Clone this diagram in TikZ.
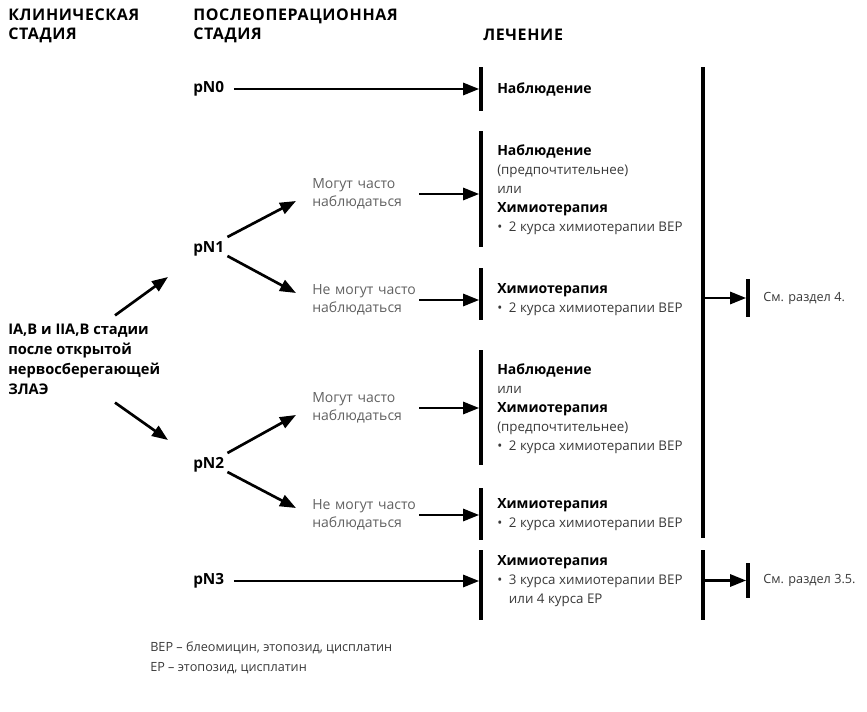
\documentclass[tikz,border=0pt]{standalone}
\usepackage{fontspec}
\setmainfont{Open Sans}
\usetikzlibrary{arrows.meta,positioning}

\newcommand{\bhead}[1]{\textcolor{black}{\fontsize{10.5}{14.25}\selectfont\textbf{#1}}}

\tikzset{
  hdr/.style={anchor=west, align=left, inner sep=0, font=\addfontfeatures{LetterSpace=4}\bfseries\fontsize{12}{14.25}\selectfont},
  stg/.style={anchor=west, align=left, inner sep=0, font=\bfseries\fontsize{11}{15}\selectfont},
  pnode/.style={anchor=west, inner sep=0, font=\bfseries\fontsize{11.5}{12}\selectfont},
  obs/.style={anchor=west, align=left, inner sep=0, text width=80pt, text=black!62, font=\fontsize{10.5}{13.5}\selectfont},
  txt/.style={anchor=west, align=left, inner sep=0, text=black!78, font=\fontsize{10}{14.25}\selectfont},
  bar/.style={fill=black, inner sep=0, minimum width=2.3pt},
  arr/.style={-{Triangle[length=12pt,width=9pt]}, line width=2pt},
}

\begin{document}
\begin{tikzpicture}[x=0.75pt, y=-0.75pt]
  \useasboundingbox (0,0) rectangle (867,712);

  \node[hdr] (hclin) at (8,25.5) {КЛИНИЧЕСКАЯ\\СТАДИЯ};
  \node[hdr] (hpost) at (193,25.5) {ПОСЛЕОПЕРАЦИОННАЯ\\СТАДИЯ};
  \node[hdr] (htreat) at (483,35) {ЛЕЧЕНИЕ};

  \node[stg] (stage) at (8,359) {IA,B и IIA,B стадии\\после открытой\\нервосберегающей\\ЗЛАЭ};

  \node[pnode] (pn0) at (193,89) {pN0};
  \node[pnode] (pn1) at (193,249) {pN1};
  \node[pnode] (pn2) at (193,465) {pN2};
  \node[pnode] (pn3) at (193,581) {pN3};

  \node[obs] (m1) at (312,194) {Могут часто\\наблюдаться};
  \node[obs] (n1) at (312,300) {Не могут часто\\наблюдаться};
  \node[obs] (m2) at (312,408) {Могут часто\\наблюдаться};
  \node[obs] (n2) at (312,515) {Не могут часто\\наблюдаться};

  \node[bar, minimum height=33pt] (t0) at (481,89) {};
  \node[bar, minimum height=87pt] (t1) at (481,189) {};
  \node[bar, minimum height=39pt] (t2) at (481,294) {};
  \node[bar, minimum height=86.25pt] (t3) at (481,407.5) {};
  \node[bar, minimum height=39pt] (t4) at (481,514) {};
  \node[bar, minimum height=52.5pt] (t5) at (481,585) {};
  \node[bar, minimum height=353.25pt] (big) at (703,302.5) {};
  \node[bar, minimum height=52.5pt] (r5) at (703,585) {};
  \node[bar, minimum height=28.5pt] (s1) at (748,298) {};
  \node[bar, minimum height=26.25pt] (s2) at (748,580.5) {};

  \node[txt] (c0) at (497,89) {\bhead{Наблюдение}};
  \node[txt] (c1) at (497,190) {\bhead{Наблюдение}\\(предпочтительнее)\\или\\\bhead{Химиотерапия}\\•\hspace{5pt}2 курса химиотерапии ВЕР};
  \node[txt] (c2) at (497,299.5) {\bhead{Химиотерапия}\\•\hspace{5pt}2 курса химиотерапии ВЕР};
  \node[txt] (c3) at (497,408.5) {\bhead{Наблюдение}\\или\\\bhead{Химиотерапия}\\(предпочтительнее)\\•\hspace{5pt}2 курса химиотерапии ВЕР};
  \node[txt] (c4) at (497,514.5) {\bhead{Химиотерапия}\\•\hspace{5pt}2 курса химиотерапии ВЕР};
  \node[txt] (c5) at (497,581.5) {\bhead{Химиотерапия}\\•\hspace{5pt}3 курса химиотерапии ВЕР\\\phantom{•}\hspace{5pt}или 4 курса ЕР};

  \node[txt, font=\fontsize{9.5}{14.25}\selectfont, right=10pt of s1] (see1) {См. раздел 4.};
  \node[txt, font=\fontsize{9.5}{14.25}\selectfont, right=10pt of s2] (see2) {См. раздел 3.5.};

  \node[txt, font=\fontsize{9.5}{15}\selectfont] (notes) at (150,658) {ВЕР – блеомицин, этопозид, цисплатин\\ЕР – этопозид, цисплатин};

  \draw[arr] ([shift={(107,-8)}]stage.north west) -- ([shift={(-25,28)}]pn1.west);
  \draw[arr] ([shift={(107,8)}]stage.south west) -- ([shift={(-25,-25)}]pn2.west);

  \draw[arr, shorten <=7pt] (pn0.east) -- (pn0.east -| t0.west);
  \draw[arr, shorten <=7pt] (pn3.east) -- (pn3.east -| t5.west);

  \draw[arr] ([shift={(3,-12)}]pn1.east) -- ([shift={(-16,7)}]m1.west);
  \draw[arr] ([shift={(3,7)}]pn1.east) -- ([shift={(-16,-7)}]n1.west);
  \draw[arr] ([shift={(3,-12)}]pn2.east) -- ([shift={(-16,7)}]m2.west);
  \draw[arr] ([shift={(3,7)}]pn2.east) -- ([shift={(-16,-7)}]n2.west);

  \draw[arr] (m1.east) -- (m1.east -| t1.west);
  \draw[arr] (n1.east) -- (n1.east -| t2.west);
  \draw[arr] (m2.east) -- (m2.east -| t3.west);
  \draw[arr] (n2.east) -- (n2.east -| t4.west);

  \draw[arr] (big.east |- s1) -- (s1.west);
  \draw[arr] (r5.east |- s2) -- (s2.west);
\end{tikzpicture}
\end{document}
